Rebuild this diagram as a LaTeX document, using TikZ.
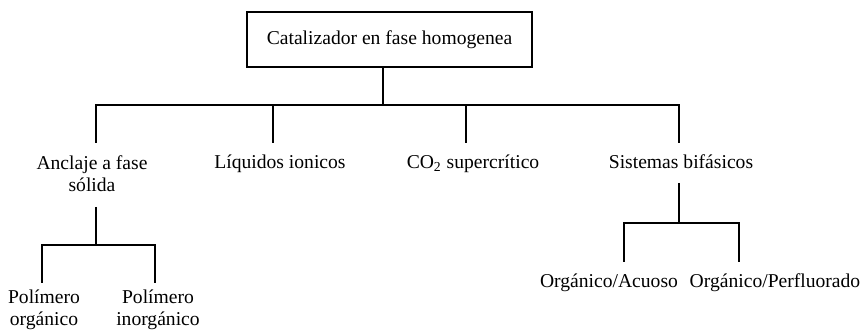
\documentclass[tikz,border=0pt]{standalone}
\usepackage{fontspec}
\setmainfont{Liberation Serif}
\begin{document}
\begin{tikzpicture}[x=0.5pt,y=-0.5pt,line width=0.6pt,
    every node/.style={font=\fontsize{9.8}{11}\selectfont},
    box/.style={draw,minimum width=142.5pt,minimum height=27.5pt,inner sep=0pt},
    leaf/.style={anchor=base,align=center,inner sep=0pt}]
    \useasboundingbox (0,0) rectangle (862,331);
    \node[box] (root) at (389.5,39.5) {Catalizador en fase homogenea};
    \node[leaf] (anclaje) at (92,192) {Anclaje a fase\\sólida};
    \node[leaf] (liquidos) at (280,169) {Líquidos ionicos};
    \node[leaf] (co2) at (473,169) {CO\textsubscript{2} supercrítico};
    \node[leaf] (bifasicos) at (681,169) {Sistemas bifásicos};
    \node[leaf] (polorg) at (44,326) {Polímero\\orgánico};
    \node[leaf] (polinorg) at (158,326) {Polímero\\inorgánico};
    \node[leaf] (acuoso) at (609,288) {Orgánico/Acuoso};
    \node[leaf] (perfluor) at (775,288) {Orgánico/Perfluorado};
    \coordinate (hub) at (383,105);
    \coordinate (b1) at (96,143); \coordinate (b2) at (273,143);
    \coordinate (b3) at (466,143); \coordinate (b4) at (679,143);
    \draw (root.south -| hub) -- (hub);
    \draw (b1) -- (b1 |- hub) -- (b4 |- hub) -- (b4);
    \draw (b2) -- (b2 |- hub); \draw (b3) -- (b3 |- hub);
    \coordinate (a0) at (96,207); \coordinate (ahub) at (96,245);
    \coordinate (a1) at (42,283); \coordinate (a2) at (155,283);
    \draw (a0) -- (ahub);
    \draw (a1) -- (a1 |- ahub) -- (a2 |- ahub) -- (a2);
    \coordinate (f0) at (679,183); \coordinate (fhub) at (679,223);
    \coordinate (f1) at (624,262); \coordinate (f2) at (739,262);
    \draw (f0) -- (fhub);
    \draw (f1) -- (f1 |- fhub) -- (f2 |- fhub) -- (f2);
\end{tikzpicture}
\end{document}
